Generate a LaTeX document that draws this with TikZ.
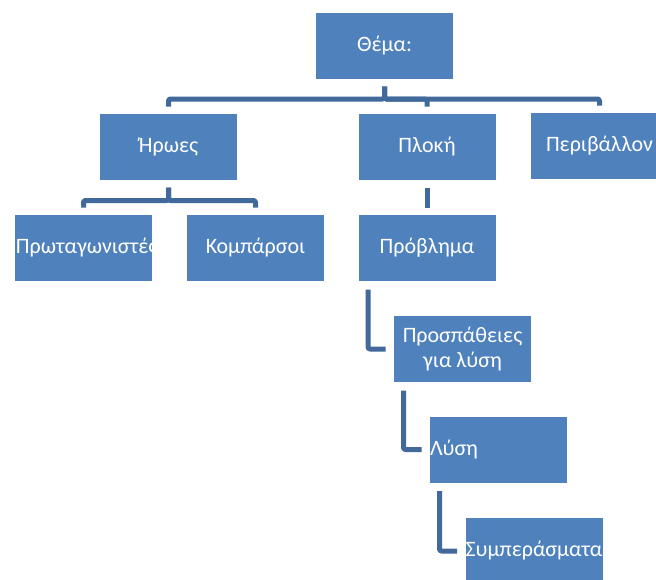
\documentclass[tikz,border=0pt]{standalone}
\usepackage{fontspec}
\setmainfont{Carlito}
\usepackage{xcolor}
\usetikzlibrary{positioning,calc}
\definecolor{boxblue}{RGB}{79,129,189}
\definecolor{lineblue}{RGB}{65,105,156}

\begin{document}
\begin{tikzpicture}[x=1pt,y=-1pt,line width=5pt,
    place/.style={rectangle,fill=boxblue,text=white,minimum width=137pt,
      minimum height=66pt,inner sep=0pt,align=center,
      font=\fontsize{22}{25}\selectfont},
    link/.style={draw=lineblue,line join=round,rounded corners=2pt,
      shorten <=5pt,shorten >=5pt}]
        \useasboundingbox (0,0) rectangle (656,579);
        \clip (0,0) rectangle (656,579);
        %%%%%%%%%%%%%%%%%%%%%%%%%%%top%%%%%%%%%%%%%%%%%%%%%%
          \node (1) at (384.5,46)   [place] {Θέμα:};
          \node (2) at (168.5,147)   [place] {Ήρωες};
          \node (3) at (427,147)   [place] {Πλοκή};
          \node (4) at (599.5,146)   [place] {Περιβάλλον};
          \node (5) at (83.5,248)   [place,text width=137pt,align=left] {\hspace*{1pt}Πρωταγωνιστές};
          \node (6) at (255.5,248)   [place] {Κομπάρσοι};
          \node (7) at (427,248)   [place] {Πρόβλημα};
        %%%%%%%%%%%%%%%%%%%%%%%%%%%steps%%%%%%%%%%%%%%%%%%%%%%
          \node (8) at (462.5,349)   [place] {Προσπάθειες\\για λύση};
          \node (9) at (498.5,449.5)   [place,text width=137pt,align=left] {Λύση};
          \node (10) at (534,551)   [place] {Συμπεράσματα};

          \draw[link] (1.south) -- ++(0,17.5) -| (2.north);
          \draw[link] (1.south) -- ++(0,17.5) -| (3.north);
          \draw[link] (1.south) -- ++(0,17.5) -| (4.north);

          \draw[link] (2.south) -- ++(0,18) -| (5.north);
          \draw[link] (2.south) -- ++(0,18) -| (6.north);
          \draw[link] (3.south) -- (7.north);

          \draw[link,shorten <=6pt,shorten >=6pt] ($(7.south west)+(12,0)$) |- (8.west);
          \draw[link,shorten <=6pt,shorten >=6pt] ($(8.south west)+(12,0)$) |- (9.west);
          \draw[link,shorten <=6pt,shorten >=6pt] ($(9.south west)+(12,0)$) |- (10.west);
        \end{tikzpicture}
\end{document}
